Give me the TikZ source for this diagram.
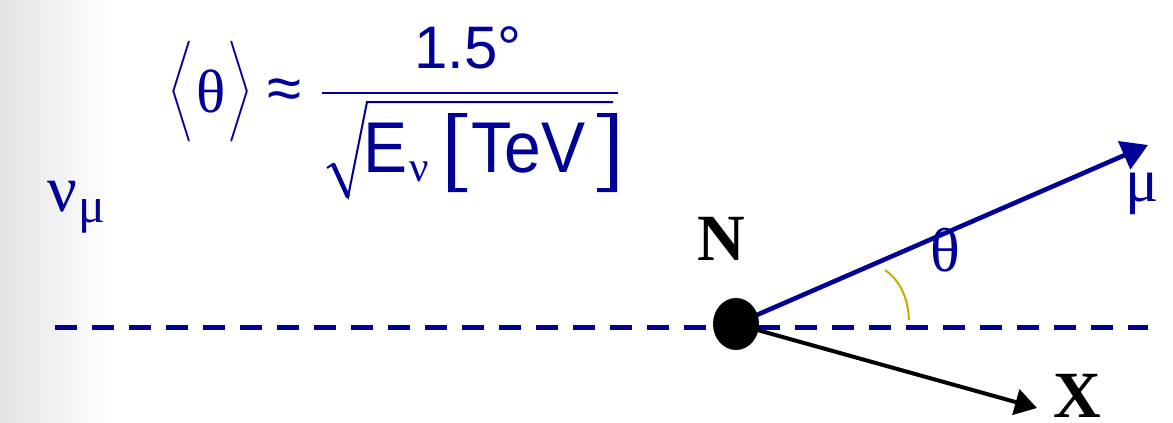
\documentclass[tikz,border=0pt]{standalone}
\usepackage{amsmath}
\usepackage{exscale}
\usepackage{graphicx}
\usepackage{fontspec}
\setmainfont{Liberation Sans}
\newfontfamily\serifgr{Liberation Serif}
\usetikzlibrary{arrows.meta,shapes.geometric}
\definecolor{navy}{RGB}{0,0,150}
\definecolor{gold}{RGB}{204,170,0}
\begin{document}
\begin{tikzpicture}[x=0.5pt,y=-0.5pt,
  lbl/.style={inner sep=0pt,outer sep=0pt,anchor=center,text=navy},
  sansbig/.style={font=\fontsize{33}{35}\selectfont},
  greek/.style={font=\serifgr\fontsize{#1}{#1}\selectfont},
  boldlbl/.style={inner sep=0pt,outer sep=0pt,anchor=center,text=black,font=\serifgr\bfseries\fontsize{33}{35}\selectfont},
  track/.style={line width=2.3pt},
  bracket/.style={fill=navy,draw=none}]
\useasboundingbox (0,0) rectangle (1173,423);
\shade[left color=black!11,right color=white] (0,0) rectangle (110,423);

% formula
\node[lbl,font=\fontsize{13}{15}\selectfont] (la) at (181,92) {\scalebox{1.3}[1.4]{$\Bigg\langle$}};
\node[lbl,greek=30.5] (th) at (211,91) {θ};
\node[lbl,font=\fontsize{13}{15}\selectfont] (ra) at (240,92) {\scalebox{1.3}[1.4]{$\Bigg\rangle$}};
\node[lbl,font=\fontsize{31}{33}\selectfont] (approx) at (285,94) {≈};
\node[lbl,font=\fontsize{30}{32}\selectfont] (num) at (468,48) {1.5°};
\coordinate (fbl) at (322,93);
\coordinate (fbr) at (618,93);
\draw[navy,line width=1.1pt] (fbl) -- (fbr);
\coordinate (r1) at (327,168);
\coordinate (r2) at (333,164);
\coordinate (r3) at (348,197);
\coordinate (r4) at (367,102);
\coordinate (r5) at (613,102);
\draw[navy,line width=1pt,line join=miter] (r1) -- (r2) -- (r3) -- (r4) -- (r5);
\draw[navy,line width=2.2pt] (r2) -- (r3);
\node[lbl,sansbig] (E) at (386,148) {\scalebox{1}[1.09]{E}};
\node[lbl,greek=21.5] (nusub) at (419,172) {ν};
\fill[bracket] (467,113) -- (448,113) -- (448,192) -- (467,192) -- (467,188) -- (455,188) -- (455,117) -- (467,117) -- cycle;
\node[lbl,sansbig] (tev) at (528.5,148) {\scalebox{1}[1.09]{TeV}};
\fill[bracket] (597,113) -- (617,113) -- (617,192) -- (597,192) -- (597,188) -- (610,188) -- (610,117) -- (597,117) -- cycle;

% nu_mu label
\node[lbl,greek=33] (nu) at (62,197) {ν};
\node[lbl,greek=25] (numu) at (92,216) {μ};

% beam line
\coordinate (dl) at (55,327);
\coordinate (dr) at (1148,327);
\draw[navy,line width=2.5pt,dash pattern=on 11pt off 7.5pt] (dl) -- (dr);

% nucleus and tracks
\coordinate (Npos) at (736,324);
\coordinate (mutip) at (1148,145);
\coordinate (xtip) at (1037,408);
\draw[navy,track,-{Triangle[length=13pt,width=15pt]}] (Npos) -- (mutip);
\draw[black,line width=2pt,-{Triangle[length=11pt,width=13pt]}] (Npos) -- (xtip);
\node[ellipse,fill=black,inner sep=0pt,minimum width=23pt,minimum height=26pt] (Nc) at (Npos) {};

% angle arc
\coordinate (a1) at (885,270);
\coordinate (a2) at (909,320);
\draw[gold,line width=1pt] (a1) .. controls (898,279) and (908,295) .. (a2);

% labels
\node[lbl,greek=31] (theta) at (945,250) {θ};
\node[lbl,greek=31] (mu) at (1142,194) {μ};
\node[boldlbl] (N) at (721,239) {N};
\node[boldlbl] (X) at (1077,396) {X};
\end{tikzpicture}
\end{document}
